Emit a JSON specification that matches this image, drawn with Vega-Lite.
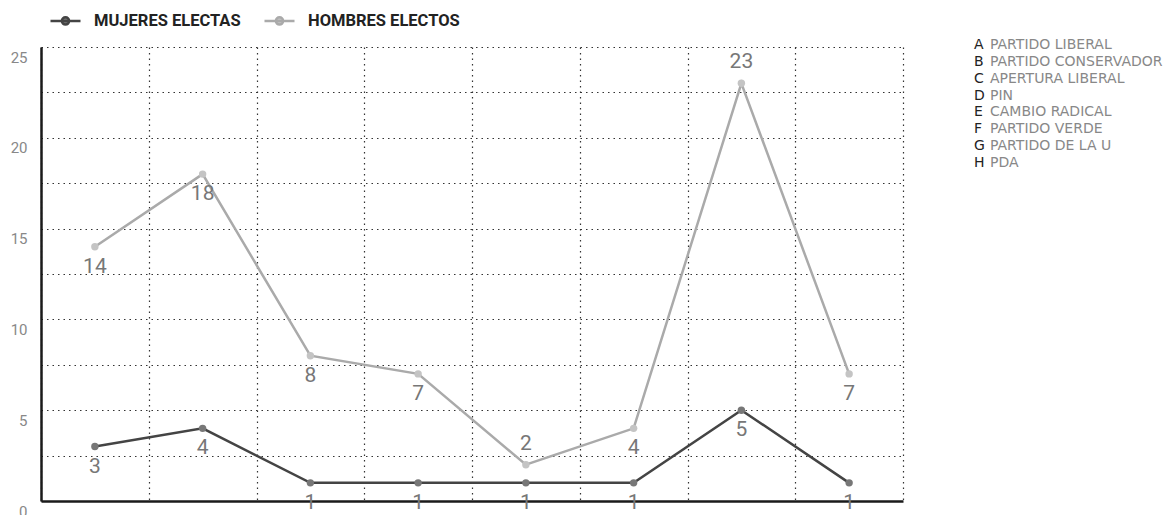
{
  "$schema": "https://vega.github.io/schema/vega-lite/v6.json",
  "background": "white",
  "padding": {"left": 10, "top": 4, "right": 0, "bottom": 0},
  "config": {
    "view": {"stroke": null},
    "font": "Roboto",
    "concat": {"spacing": 70}
  },
  "datasets": {
    "electos": [
      {"partido": "A", "serie": "MUJERES ELECTAS", "electos": 3},
      {"partido": "B", "serie": "MUJERES ELECTAS", "electos": 4},
      {"partido": "C", "serie": "MUJERES ELECTAS", "electos": 1},
      {"partido": "D", "serie": "MUJERES ELECTAS", "electos": 1},
      {"partido": "E", "serie": "MUJERES ELECTAS", "electos": 1},
      {"partido": "F", "serie": "MUJERES ELECTAS", "electos": 1},
      {"partido": "G", "serie": "MUJERES ELECTAS", "electos": 5},
      {"partido": "H", "serie": "MUJERES ELECTAS", "electos": 1},
      {"partido": "A", "serie": "HOMBRES ELECTOS", "electos": 14},
      {"partido": "B", "serie": "HOMBRES ELECTOS", "electos": 18},
      {"partido": "C", "serie": "HOMBRES ELECTOS", "electos": 8},
      {"partido": "D", "serie": "HOMBRES ELECTOS", "electos": 7},
      {"partido": "E", "serie": "HOMBRES ELECTOS", "electos": 2},
      {"partido": "F", "serie": "HOMBRES ELECTOS", "electos": 4},
      {"partido": "G", "serie": "HOMBRES ELECTOS", "electos": 23},
      {"partido": "H", "serie": "HOMBRES ELECTOS", "electos": 7}
    ],
    "partidos": [
      {"letra": "A", "nombre": "PARTIDO LIBERAL"},
      {"letra": "B", "nombre": "PARTIDO CONSERVADOR"},
      {"letra": "C", "nombre": "APERTURA LIBERAL"},
      {"letra": "D", "nombre": "PIN"},
      {"letra": "E", "nombre": "CAMBIO RADICAL"},
      {"letra": "F", "nombre": "PARTIDO VERDE"},
      {"letra": "G", "nombre": "PARTIDO DE LA U"},
      {"letra": "H", "nombre": "PDA"}
    ]
  },
  "hconcat": [
    {
      "width": 862,
      "height": 454,
      "data": {"name": "electos"},
      "encoding": {
        "x": {
          "field": "partido",
          "type": "nominal",
          "sort": ["A", "B", "C", "D", "E", "F", "G", "H"],
          "scale": {"type": "band", "paddingInner": 0, "paddingOuter": 0},
          "axis": {
            "title": null,
            "labels": false,
            "ticks": false,
            "tickBand": "extent",
            "grid": true,
            "gridColor": "#333",
            "gridDash": [1.5, 4],
            "gridWidth": 1.2,
            "domainColor": "#1a1a1a",
            "domainWidth": 2.5
          }
        },
        "y": {
          "field": "electos",
          "type": "quantitative",
          "scale": {"domain": [0, 25], "nice": false},
          "axis": {
            "title": null,
            "values": [0, 2.5, 5, 7.5, 10, 12.5, 15, 17.5, 20, 22.5, 25],
            "labelExpr": "datum.value % 5 === 0 ? datum.label : ''",
            "ticks": false,
            "labelPadding": 14,
            "labelOffset": 10,
            "labelFontSize": 15,
            "labelColor": "#888",
            "labelFlush": false,
            "labelOverlap": false,
            "labelBound": false,
            "grid": true,
            "gridColor": "#333",
            "gridDash": [1.5, 4],
            "gridWidth": 1.2,
            "domainColor": "#1a1a1a",
            "domainWidth": 2.5
          }
        }
      },
      "layer": [
        {
          "mark": {"type": "line", "strokeWidth": 2.5},
          "encoding": {
            "color": {
              "field": "serie",
              "type": "nominal",
              "scale": {"domain": ["MUJERES ELECTAS", "HOMBRES ELECTOS"], "range": ["#444444", "#aaaaaa"]},
              "legend": {
                "title": null,
                "orient": "none",
                "direction": "horizontal",
                "legendX": 8,
                "legendY": -43,
                "symbolType": "M-1,0L1,0M0.24,0A0.24,0.24 0 1,1 -0.24,0A0.24,0.24 0 1,1 0.24,0Z",
                "symbolSize": 900,
                "symbolStrokeWidth": 2.5,
                "labelFont": "Roboto",
                "labelFontSize": 16.5,
                "labelFontWeight": "bold",
                "labelColor": "#222",
                "labelOffset": 12,
                "columnPadding": 18,
                "encode": {
                  "symbols": {"update": {"fill": {"scale": "fill", "field": "value"}, "opacity": {"value": 1}}}
                }
              }
            }
          }
        },
        {
          "mark": {"type": "point", "filled": true, "size": 55, "opacity": 1},
          "encoding": {
            "fill": {
              "field": "serie",
              "type": "nominal",
              "scale": {"domain": ["MUJERES ELECTAS", "HOMBRES ELECTOS"], "range": ["#777777", "#c4c4c4"]},
              "legend": null
            }
          }
        },
        {
          "transform": [
            {"filter": "!(datum.serie === 'HOMBRES ELECTOS' && (datum.partido === 'E' || datum.partido === 'G'))"}
          ],
          "mark": {"type": "text", "dy": 20, "fontSize": 21, "color": "#777", "baseline": "middle"},
          "encoding": {"text": {"field": "electos", "type": "quantitative"}}
        },
        {
          "transform": [
            {"filter": "datum.serie === 'HOMBRES ELECTOS' && (datum.partido === 'E' || datum.partido === 'G')"}
          ],
          "mark": {"type": "text", "dy": -21, "fontSize": 21, "color": "#777", "baseline": "middle"},
          "encoding": {"text": {"field": "electos", "type": "quantitative"}}
        }
      ]
    },
    {
      "width": 2,
      "height": 118,
      "data": {"name": "partidos"},
      "encoding": {
        "y": {"field": "letra", "type": "nominal", "scale": {"type": "point", "padding": 0}, "axis": null}
      },
      "layer": [
        {
          "mark": {"type": "text", "align": "left", "baseline": "middle", "font": "DejaVu Sans", "fontSize": 14, "color": "#222", "dy": -2},
          "encoding": {"text": {"field": "letra"}}
        },
        {
          "mark": {"type": "text", "align": "left", "baseline": "middle", "font": "DejaVu Sans", "fontSize": 14, "color": "#888", "dx": 16, "dy": -2},
          "encoding": {"text": {"field": "nombre"}}
        }
      ]
    }
  ]
}
